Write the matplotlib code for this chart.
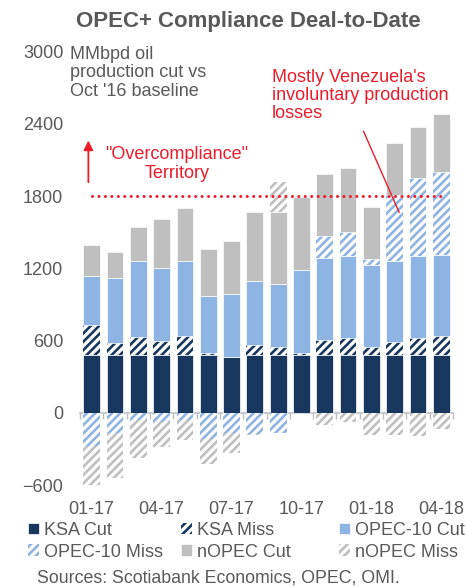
import numpy as np
import matplotlib
matplotlib.use('Agg')
import matplotlib.pyplot as plt

plt.rcParams['font.family'] = ['Liberation Sans', 'DejaVu Sans']
plt.rcParams['hatch.linewidth'] = 1.9

# datos (MMbpd)
months = ['01-17', '02-17', '03-17', '04-17', '05-17', '06-17', '07-17', '08-17',
          '09-17', '10-17', '11-17', '12-17', '01-18', '02-18', '03-18', '04-18']
ksa_cut = [476, 476, 476, 476, 476, 476, 465, 476, 476, 476, 476, 476, 476, 476, 476, 476]
ksa_miss = [250, 106, 156, 123, 164, 23, 0, 89, 70, 23, 128, 142, 70, 109, 148, 162]
opec_cut = [414, 536, 625, 608, 620, 472, 525, 534, 528, 689, 678, 681, 680, 678, 677, 677]
opec_miss = [-274, -168, -62, -76, -62, -218, -168, -175, -168, 0, 189, 200, 50, 547, 653, 684]
nopec_cut = [256, 220, 283, 400, 441, 392, 436, 572, 597, 602, 514, 533, 431, 430, 423, 480]
nopec_miss = [-344, -375, -314, -209, -162, -206, -167, -10, 250, 0, -99, -76, -182, -182, -190, -132]
tick_labels = ['01-17', '04-17', '07-17', '10-17', '01-18', '04-18']
threshold = 1800

navy = '#17375E'
lblue = '#8DB4E2'
lgray = '#BFBFBF'
red = '#EC1C2B'
txt = '#595959'

fig = plt.figure(figsize=(4.66, 5.87), dpi=100)
ax = fig.add_axes([80/466, 1-485/587, 373/466, 433.3/587])

x = np.arange(len(months))
series = [
    ('KSA Cut', ksa_cut, dict(color=navy, edgecolor='white', linewidth=0.5)),
    ('KSA Miss', ksa_miss, dict(color='white', edgecolor=navy, hatch='////', linewidth=0)),
    ('OPEC-10 Cut', opec_cut, dict(color=lblue, edgecolor='white', linewidth=0.5)),
    ('OPEC-10 Miss', opec_miss, dict(color='white', edgecolor=lblue, hatch='////', linewidth=0)),
    ('nOPEC Cut', nopec_cut, dict(color=lgray, edgecolor='white', linewidth=0.5)),
    ('nOPEC Miss', nopec_miss, dict(color='white', edgecolor=lgray, hatch='////', linewidth=0)),
]
pos = np.zeros(len(months))
neg = np.zeros(len(months))
handles = {}
for name, vals, style in series:
    v = np.array(vals, dtype=float)
    bottom = np.where(v >= 0, pos, neg)
    handles[name] = ax.bar(x, v, bottom=bottom, width=0.72, label=name, zorder=2, **style)
    pos = pos + np.clip(v, 0, None)
    neg = neg + np.clip(v, None, 0)

ax.set_xlim(-0.5, len(months) - 0.5)
ax.set_ylim(-600, 3000)
ax.set_yticks(np.arange(-600, 3001, 600))
ax.set_xticks([months.index(m) for m in tick_labels])
ax.set_xticklabels(tick_labels)
ax.tick_params(axis='both', length=0, labelsize=13, labelcolor=txt)
ax.tick_params(axis='x', pad=11.5)
ax.tick_params(axis='y', pad=12)
for s in ax.spines.values():
    s.set_visible(False)

# linea de cero con marcas entre categorias
sec = ax.secondary_xaxis(600/3600)
sec.set_xticks(np.arange(-0.5, len(months), 1.0))
sec.tick_params(length=4, color='#BFBFBF', labelbottom=False, width=1)
sec.spines['bottom'].set_color('#BFBFBF')
sec.spines['bottom'].set_linewidth(1.2)

# umbral de sobrecumplimiento
ax.hlines(threshold, 0, len(months) - 1, colors=red, linewidth=2.2,
          linestyles=(0, (0.01, 2.1)), capstyle='round', zorder=3)
ax.annotate('', xy=(-0.14, 2262), xytext=(-0.14, 1915),
            arrowprops=dict(arrowstyle='-|>', color=red, lw=1.3, mutation_scale=14,
                            shrinkA=0, shrinkB=0))
ax.text(3.65, 2068, '"Overcompliance"\nTerritory', color=red, fontsize=13,
        ha='center', va='center', linespacing=1.1)
ax.text(7.74, 2637, "Mostly Venezuela's\ninvoluntary production\nlosses", color=red,
        fontsize=13, ha='left', va='center', linespacing=1.1)
ax.annotate('', xy=(13.19, 1665), xytext=(11.66, 2340),
            arrowprops=dict(arrowstyle='-', color=red, lw=1, shrinkA=0, shrinkB=0))

fig.text(248/466, 1-22/587, 'OPEC+ Compliance Deal-to-Date', fontsize=16,
         fontweight='bold', color=txt, ha='center', va='center')
fig.text(70/466, 1-72.7/587, "MMbpd oil\nproduction cut vs\nOct '16 baseline",
         fontsize=13, color=txt, ha='left', va='center', linespacing=1.1)

cols = [('KSA Cut', 'OPEC-10 Miss'), ('KSA Miss', 'nOPEC Cut'), ('OPEC-10 Cut', 'nOPEC Miss')]
col_x = [28, 181, 339]
for names, cx in zip(cols, col_x):
    fig.legend([handles[n] for n in names], list(names), loc='upper left',
               bbox_to_anchor=(cx/466, 1-522/587), frameon=False, fontsize=13,
               labelcolor=txt, handlelength=0.6, handleheight=0.6, handletextpad=0.3,
               labelspacing=0.25, borderpad=0, borderaxespad=0)

fig.text(37/466, 1-578/587, 'Sources: Scotiabank Economics, OPEC, OMI.', fontsize=12.8,
         color=txt, ha='left', va='center')

plt.savefig('out.png', dpi=100)
